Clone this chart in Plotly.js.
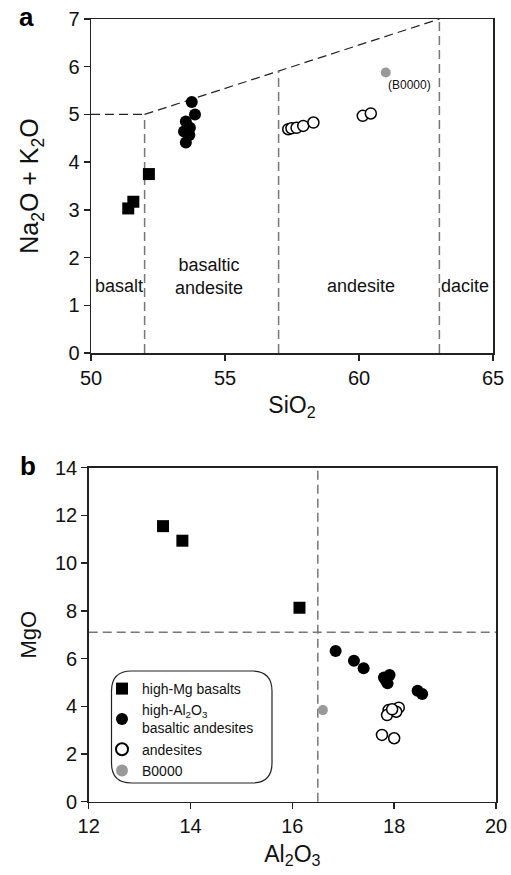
<!DOCTYPE html>
<html><head><meta charset="utf-8">
<script src="https://cdn.plot.ly/plotly-3.0.1.min.js"></script>
<style>html,body{margin:0;padding:0;background:#fff}</style>
</head><body><div id="chart" style="width:511px;height:875px"></div>
<script>
// ---- Panel a : total alkali vs silica ----
const tasBasaltSiO2 = [51.39, 51.58, 52.16];
const tasBasaltAlk  = [3.03, 3.17, 3.75];
const tasBASiO2 = [53.76, 53.88, 53.54, 53.69, 53.47, 53.67, 53.54, 53.62];
const tasBAAlk  = [5.26, 5.00, 4.85, 4.72, 4.64, 4.57, 4.41, 4.68];
const tasAndSiO2 = [57.36, 57.48, 57.67, 57.92, 58.30, 60.14, 60.44];
const tasAndAlk  = [4.69, 4.71, 4.72, 4.76, 4.83, 4.97, 5.02];
const tasB0000SiO2 = [61.0];
const tasB0000Alk  = [5.88];
// TAS field boundaries
const tasUpperX = [50, 52, 63];
const tasUpperY = [5, 5, 7];
const tasDividerX = [52, 57, 63];
const tasDividerTop = [5, 5.91, 7];
const tasFieldNames = ['basalt', 'basaltic<br>andesite', 'andesite', 'dacite'];
const tasFieldX = [51.04, 54.4, 60.07, 63.97];
const tasFieldY = [1.4, 1.61, 1.4, 1.4];

// ---- Panel b : MgO vs Al2O3 ----
const mgBasaltAl = [13.46, 13.84, 16.14];
const mgBasaltMg = [11.55, 10.94, 8.13];
const mgBAAl = [16.85, 17.21, 17.40, 17.80, 17.91, 17.87, 17.83, 18.46, 18.55];
const mgBAMg = [6.32, 5.91, 5.59, 5.21, 5.31, 4.96, 5.10, 4.65, 4.51];
const mgAndAl = [17.89, 17.86, 18.09, 18.04, 17.96, 17.76, 18.00];
const mgAndMg = [3.84, 3.63, 3.94, 3.77, 3.87, 2.80, 2.66];
const mgB0000Al = [16.6];
const mgB0000Mg = [3.84];
const mgDividerMg = 7.1;
const alDivider = 16.5;

const seriesNames = ['high-Mg basalts', 'high-Al<sub>2</sub>O<sub>3</sub><br>basaltic andesites', 'andesites', 'B0000'];

const FONT = '"Liberation Sans", Arial, Helvetica, sans-serif';
const W = 511, H = 875;

const mk = {
  sq: {symbol: 'square', size: 12, color: '#000'},
  fc: {symbol: 'circle', size: 12, color: '#000'},
  oc: {symbol: 'circle', size: 11, color: '#fff', line: {color: '#000', width: 1.5}},
  gc: {symbol: 'circle', size: 10, color: '#999'}
};

function tr(x, y, xa, ya, m, name, show) {
  return {x: x, y: y, xaxis: xa, yaxis: ya, type: 'scatter', mode: 'markers',
          marker: m, name: name, showlegend: show, hoverinfo: 'skip', cliponaxis: false};
}

const data = [
  tr(tasBasaltSiO2, tasBasaltAlk, 'x', 'y', mk.sq, seriesNames[0], false),
  tr(tasBASiO2, tasBAAlk, 'x', 'y', mk.fc, seriesNames[1], false),
  tr(tasAndSiO2, tasAndAlk, 'x', 'y', mk.oc, seriesNames[2], false),
  tr(tasB0000SiO2, tasB0000Alk, 'x', 'y', mk.gc, seriesNames[3], false),
  tr(mgBasaltAl, mgBasaltMg, 'x2', 'y2', mk.sq, seriesNames[0], true),
  tr(mgBAAl, mgBAMg, 'x2', 'y2', mk.fc, seriesNames[1], true),
  tr(mgAndAl, mgAndMg, 'x2', 'y2', mk.oc, seriesNames[2], true),
  tr(mgB0000Al, mgB0000Mg, 'x2', 'y2', mk.gc, seriesNames[3], true)
];

const DASH = '9px,5px';
const shapes = [];
// TAS upper boundary (black dashed)
for (let i = 0; i < tasUpperX.length - 1; i++) {
  shapes.push({type: 'line', xref: 'x', yref: 'y', x0: tasUpperX[i], y0: tasUpperY[i], x1: tasUpperX[i+1], y1: tasUpperY[i+1],
               line: {color: '#222', width: 1.2, dash: DASH}, layer: 'below'});
}
// TAS vertical dividers (gray dashed)
tasDividerX.forEach((xv, i) => {
  shapes.push({type: 'line', xref: 'x', yref: 'y', x0: xv, y0: 0, x1: xv, y1: tasDividerTop[i],
               line: {color: '#777', width: 1.5, dash: DASH}, layer: 'below'});
});
// Panel b dividers
shapes.push({type: 'line', xref: 'x2 domain', yref: 'y2', x0: 0, x1: 1, y0: mgDividerMg, y1: mgDividerMg,
             line: {color: '#777', width: 1.5, dash: DASH}, layer: 'below'});
shapes.push({type: 'line', xref: 'x2', yref: 'y2 domain', x0: alDivider, x1: alDivider, y0: 0, y1: 1,
             line: {color: '#777', width: 1.5, dash: DASH}, layer: 'below'});
// rounded legend frame (paper coords)
(function () {
  const x0 = 111.5 / W, x1 = 272 / W, yt = 1 - 671 / H, yb = 1 - 783 / H;
  const rx = 20 / W, ry = 20 / H;
  const p = 'M ' + (x0 + rx) + ',' + yt + ' L ' + (x1 - rx) + ',' + yt +
    ' Q ' + x1 + ',' + yt + ' ' + x1 + ',' + (yt - ry) +
    ' L ' + x1 + ',' + (yb + ry) + ' Q ' + x1 + ',' + yb + ' ' + (x1 - rx) + ',' + yb +
    ' L ' + (x0 + rx) + ',' + yb + ' Q ' + x0 + ',' + yb + ' ' + x0 + ',' + (yb + ry) +
    ' L ' + x0 + ',' + (yt - ry) + ' Q ' + x0 + ',' + yt + ' ' + (x0 + rx) + ',' + yt + ' Z';
  shapes.push({type: 'path', xref: 'paper', yref: 'paper', path: p, line: {color: '#222', width: 1.2}, fillcolor: 'rgba(0,0,0,0)', layer: 'above'});
})();

const annotations = [];
tasFieldNames.forEach((t, i) => {
  annotations.push({xref: 'x', yref: 'y', x: tasFieldX[i], y: tasFieldY[i], text: t, showarrow: false,
                    font: {family: FONT, size: 18, color: '#111'}});
});
annotations.push({xref: 'x', yref: 'y', x: tasB0000SiO2[0], y: tasB0000Alk[0], text: '(B0000)', showarrow: false,
                  xanchor: 'left', yanchor: 'middle', xshift: 0, yshift: -13, font: {family: FONT, size: 12, color: '#111'}});
annotations.push({xref: 'paper', yref: 'paper', x: 17 / W, y: 1 - 17 / H, text: '<b>a</b>', showarrow: false,
                  xanchor: 'left', yanchor: 'middle', font: {family: FONT, size: 26, color: '#000'}});
annotations.push({xref: 'paper', yref: 'paper', x: 18 / W, y: 1 - 466 / H, text: '<b>b</b>', showarrow: false,
                  xanchor: 'left', yanchor: 'middle', font: {family: FONT, size: 26, color: '#000'}});

const axBase = {
  showline: true, mirror: true, linecolor: '#222', linewidth: 1.5,
  ticks: 'outside', ticklen: 6, tickwidth: 1.5, tickcolor: '#222',
  showgrid: false, zeroline: false, fixedrange: true,
  tickfont: {family: FONT, size: 20, color: '#111'}
};
const titleFont = {family: FONT, size: 23, color: '#111'};

const layout = {
  width: W, height: H,
  margin: {l: 0, r: 0, t: 0, b: 0},
  paper_bgcolor: '#fff', plot_bgcolor: '#fff',
  font: {family: FONT, color: '#111'},
  xaxis: Object.assign({}, axBase, {domain: [91 / W, 493 / W], range: [50, 65], tickvals: [50, 55, 60, 65], anchor: 'y',
    title: {text: 'SiO<sub>2</sub>', font: titleFont, standoff: 9}}),
  yaxis: Object.assign({}, axBase, {domain: [1 - 353 / H, 1 - 19 / H], range: [0, 7], dtick: 1, anchor: 'x',
    title: {text: 'Na<sub>2</sub>O&nbsp;+&nbsp;K<sub>2</sub>O', font: {family: FONT, size: 25, color: '#111'}, standoff: 22}}),
  xaxis2: Object.assign({}, axBase, {domain: [88.7 / W, 496 / W], range: [12, 20], dtick: 2, anchor: 'y2',
    title: {text: 'Al<sub>2</sub>O<sub>3</sub>', font: titleFont, standoff: 9}}),
  yaxis2: Object.assign({}, axBase, {domain: [1 - 801.7 / H, 1 - 467.7 / H], range: [0, 14], dtick: 2, anchor: 'x2',
    title: {text: 'MgO', font: {family: FONT, size: 22, color: '#111'}, standoff: 12}}),
  showlegend: true,
  legend: {x: 102 / W, y: 1 - 673 / H, xanchor: 'left', yanchor: 'top', bgcolor: 'rgba(0,0,0,0)', borderwidth: 0,
           font: {family: FONT, size: 14, color: '#111'}, tracegroupgap: 0, itemsizing: 'constant', traceorder: 'normal'},
  shapes: shapes,
  annotations: annotations
};

Plotly.newPlot('chart', data, layout, {displayModeBar: false, staticPlot: true});
</script>
</body></html>
